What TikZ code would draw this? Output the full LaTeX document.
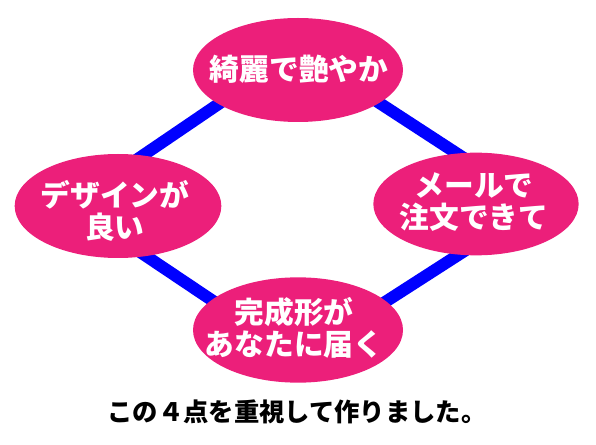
\documentclass[tikz,border=0pt]{standalone}
\usepackage{fontspec}
\setmainfont{Noto Sans CJK JP}
\usetikzlibrary{shapes.geometric}
\definecolor{pinkfill}{RGB}{236,31,122}
\definecolor{lineblue}{RGB}{0,0,255}
\tikzset{
  blob/.style={ellipse, fill=pinkfill, inner sep=0pt},
  blobtext/.style={text=white, align=center, inner sep=0pt,
    font=\fontsize{22.3pt}{24pt}\selectfont\bfseries},
  link/.style={draw=lineblue, line width=9pt},
}
\begin{document}
\begin{tikzpicture}[x=0.75pt,y=-0.75pt]
\useasboundingbox (0,0) rectangle (596,445);
\coordinate (vt) at (298,50);
\coordinate (vl) at (70,205);
\coordinate (vr) at (536,205);
\coordinate (vb) at (298,358);
\draw[link] (vt) -- (vl) -- (vb) -- (vr) -- cycle;
\node[blob, minimum width=157.5pt, minimum height=78pt] (top) at (298,70) {};
\node[blob, minimum width=155pt, minimum height=78pt] (left) at (118,206) {};
\node[blob, minimum width=154pt, minimum height=77pt] (right) at (476,204) {};
\node[blob, minimum width=157.5pt, minimum height=79pt] (bottom) at (298,330) {};
\node[blobtext] (ttop) at (299,69) {綺麗で艶やか};
\node[blobtext] (tleft) at (115,211) {デザインが\\良い};
\node[blobtext] (tright) at (474,202) {メールで\\注文できて};
\node[blobtext] (tbottom) at (294,328) {完成形が\\あなたに届く};
\node[font=\fontsize{19pt}{20pt}\selectfont\bfseries, text=black, inner sep=0pt] (cap) at (297,412) {この４点を重視して作りました。};
\end{tikzpicture}
\end{document}
